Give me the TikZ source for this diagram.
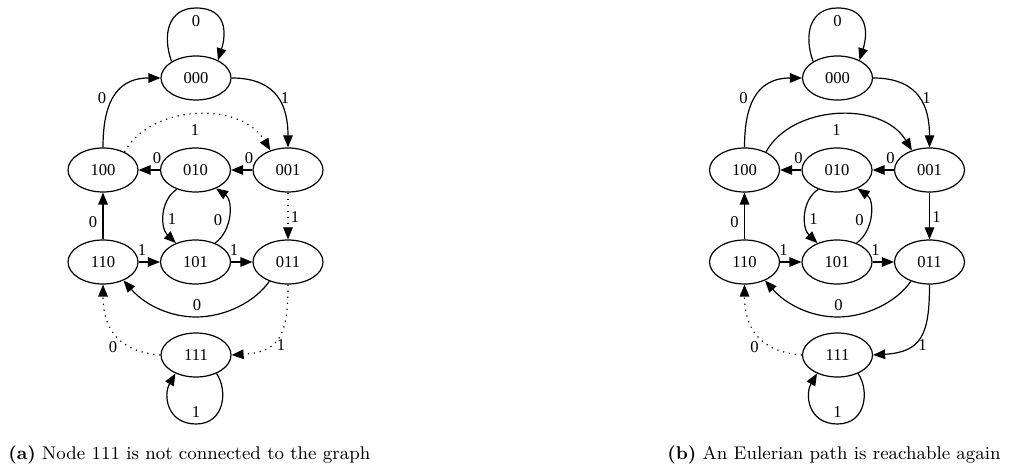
\documentclass[tikz,border=0pt]{standalone}
\usepackage{fontspec}
\newfontfamily\gvfont{Liberation Serif}
\usetikzlibrary{arrows.meta,shapes.geometric}

\tikzset{
  state/.style={draw, ellipse, minimum width=35pt, minimum height=22pt,
    inner sep=0pt, line width=0.6pt, font=\gvfont\fontsize{8.3pt}{9pt}\selectfont},
  edge/.style={line width=0.6pt, -{Triangle[length=6pt,width=4.8pt]}},
  faint/.style={dash pattern=on 0.6pt off 2.4pt},
  plain/.style={},
  lbl/.style={inner sep=0pt, font=\gvfont\fontsize{8.3pt}{9pt}\selectfont},
  caption/.style={inner sep=0pt, anchor=base west, font=\fontsize{9.2pt}{11pt}\selectfont}
}

% De Bruijn graph B(2,3); #1 = name prefix, #2 = horizontal offset,
% #3 = style of the edges 100->001, 001->011 and 011->111
\newcommand{\debruijngraph}[3]{%
\begin{scope}[shift={(#2,0)}]
  \node[state] (#1000) at (196,78)  {000};
  \node[state] (#1100) at (103,170) {100};
  \node[state] (#1010) at (195.5,170) {010};
  \node[state] (#1001) at (288,170) {001};
  \node[state] (#1110) at (103,262) {110};
  \node[state] (#1101) at (195.5,262) {101};
  \node[state] (#1011) at (288,262) {011};
  \node[state] (#1111) at (196,355) {111};

  % self loop on 000
  \draw[edge] (#1000.146) .. controls (162,35) and (168,8) .. (196,8)
    .. controls (228,8) and (226,35) .. (#1000.39);
  \node[lbl] (#1l0) at (196,21) {0};
  % 000 -> 001
  \draw[edge] (#1000.east) .. controls (279,78) and (288,108) .. (#1001.north);
  \node[lbl] (#1l1) at (285,98) {1};
  % 100 -> 000
  \draw[edge] (#1100.north) .. controls (103,110) and (112,78) .. (#1000.west);
  \node[lbl] (#1l2) at (102,98) {0};
  % 100 -> 001
  \draw[edge,#3] (#1100.40) .. controls (150,105) and (240,100) .. (#1001.132);
  \node[lbl] (#1l3) at (195,130) {1};
  % 001 -> 010 and 010 -> 100
  \draw[edge] (#1001.west) -- (#1010.east);
  \node[lbl] (#1l4) at (249,158) {0};
  \draw[edge] (#1010.west) -- (#1100.east);
  \node[lbl] (#1l5) at (157,158) {0};
  % 010 -> 101 and 101 -> 010
  \draw[edge] (#1010.226) .. controls (160,200) and (160,228) .. (#1101.136);
  \node[lbl] (#1l6) at (172,219) {1};
  \draw[edge] (#1101.44) .. controls (233,230) and (233,200) .. (#1010.-42);
  \node[lbl] (#1l7) at (218,220) {0};
  % 110 -> 100
  \draw[edge] (#1110.north) -- (#1100.south);
  \node[lbl] (#1l8) at (93,222) {0};
  % 110 -> 101 and 101 -> 011
  \draw[edge] (#1110.east) -- (#1101.west);
  \node[lbl] (#1l9) at (142,250) {1};
  \draw[edge] (#1101.east) -- (#1011.west);
  \node[lbl] (#1l10) at (234,250) {1};
  % 001 -> 011
  \draw[edge,#3] (#1001.south) -- (#1011.north);
  \node[lbl] (#1l11) at (295,217) {1};
  % 011 -> 110
  \draw[edge] (#1011.226) .. controls (255,302) and (225,317) .. (196,317)
    .. controls (170,317) and (145,305) .. (#1110.-42);
  \node[lbl] (#1l12) at (197,305) {0};
  % 011 -> 111
  \draw[edge,#3] (#1011.south) .. controls (288,335) and (280,352) .. (#1111.east);
  \node[lbl] (#1l13) at (281,345) {1};
  % 111 -> 110
  \draw[edge,faint] (#1111.west) .. controls (120,352) and (103,330) .. (#1110.south);
  \node[lbl] (#1l14) at (113,347) {0};
  % self loop on 111
  \draw[edge] (#1111.-42) .. controls (228,390) and (225,424) .. (196,424)
    .. controls (167,424) and (163,395) .. (#1111.-138);
  \node[lbl] (#1l15) at (196,412) {1};
\end{scope}}

\begin{document}
\begin{tikzpicture}[x=0.5pt,y=-0.5pt]
  \useasboundingbox (0,0) rectangle (1010,464);
  \debruijngraph{a}{0}{faint}
  \debruijngraph{b}{641.5}{plain}
  \node[caption] (capa) at (8,459) {\textbf{(a)} Node 111 is not connected to the graph};
  \node[caption] (capb) at (667,459) {\textbf{(b)} An Eulerian path is reachable again};
\end{tikzpicture}
\end{document}
